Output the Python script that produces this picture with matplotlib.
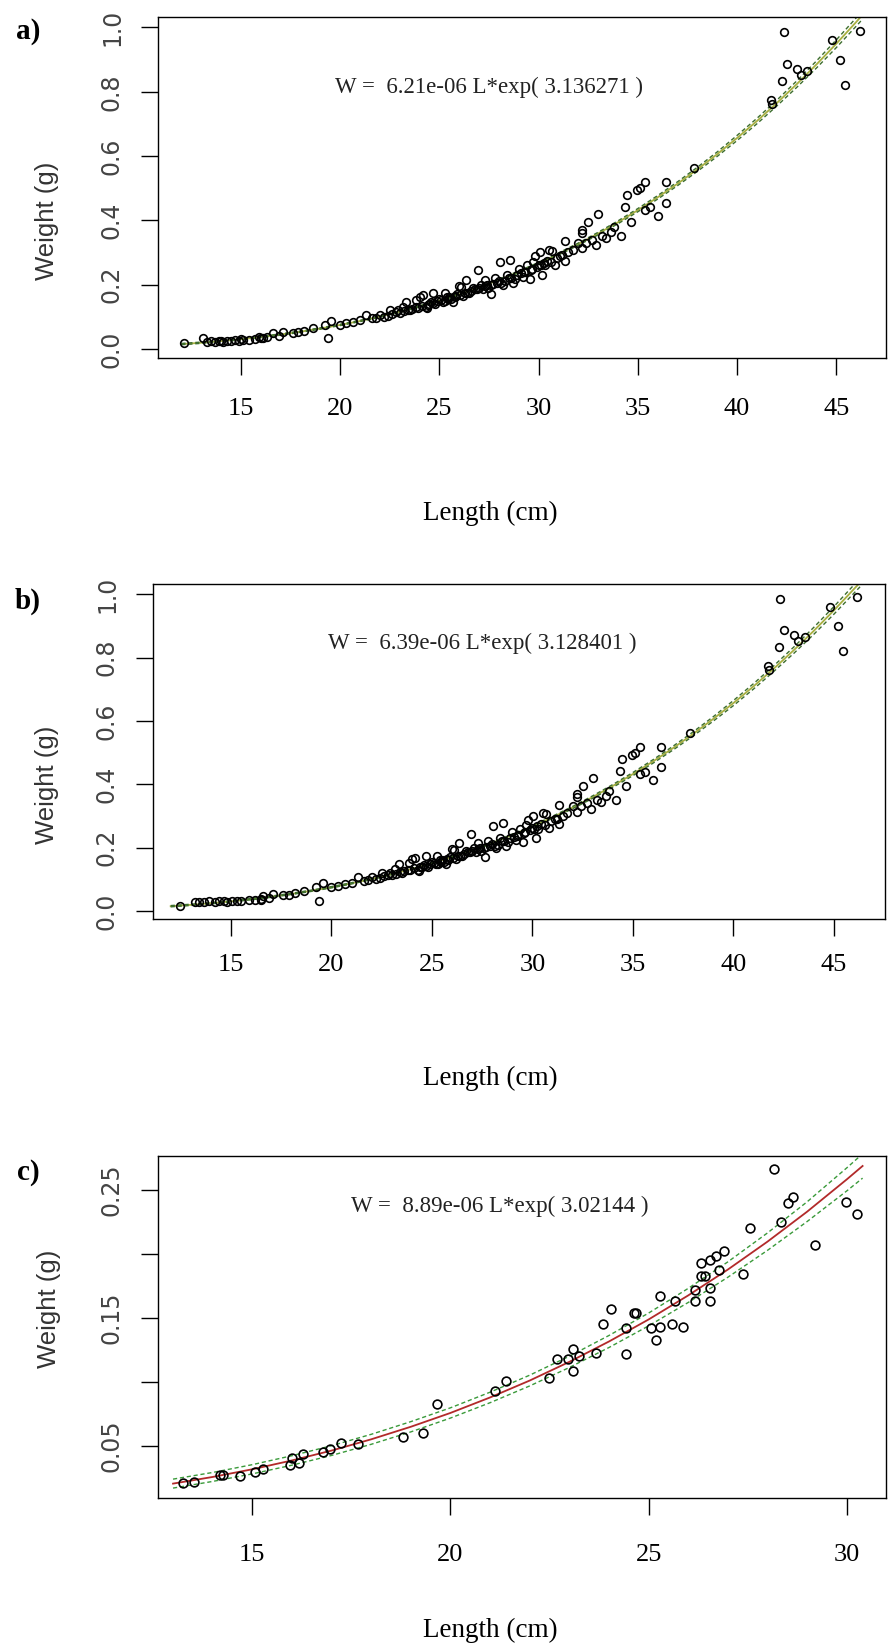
import matplotlib
matplotlib.use("Agg")
import matplotlib.pyplot as plt
import numpy as np

# --- panels a and b: observed length (cm) / weight (g)
len_low_a = [12.15, 13.1, 13.3, 13.5, 13.7, 13.9, 14.0, 14.1, 14.3, 14.5, 14.7, 14.9, 15.0,
             15.1, 15.4, 15.7, 15.9, 16.0, 16.1, 16.3]
wt_low_a = [0.018, 0.033, 0.022, 0.024, 0.022, 0.025, 0.026, 0.023, 0.026, 0.024, 0.027, 0.026, 0.031,
            0.028, 0.027, 0.031, 0.036, 0.035, 0.033, 0.038]
len_low_b = [12.48, 13.22, 13.4, 13.64, 13.9, 14.2, 14.4, 14.63, 14.8, 15.06, 15.3, 15.48, 15.9,
             16.2, 16.47, 16.5]
wt_low_b = [0.017, 0.028, 0.030, 0.029, 0.031, 0.030, 0.032, 0.031, 0.030, 0.032, 0.031, 0.033, 0.034,
            0.036, 0.038, 0.035]

len_common = [16.6, 16.9, 17.1, 17.6, 17.9, 18.2, 18.64, 19.23, 19.4, 19.56, 19.98, 20.3, 20.65,
              21.0, 21.32, 21.6, 22.0, 22.2, 22.5, 22.6, 22.8, 22.9, 23.17, 23.2, 23.34, 23.5, 23.6,
              23.8, 23.84, 24.0, 24.1, 24.18, 24.3, 24.35, 24.5, 24.6, 24.68, 24.8, 24.9, 25.0, 25.18,
              25.27, 25.3, 25.4, 25.5, 25.6, 25.68, 25.77, 25.9, 26.0, 26.1, 26.2, 26.3, 26.36, 26.5,
              26.6, 26.7, 26.8, 26.94, 27.0, 27.1, 27.2, 27.28, 27.4, 27.45, 27.6, 27.62, 27.8, 27.9,
              28.03, 28.12, 28.2, 28.3, 28.4, 28.54, 28.6, 28.7, 28.8, 28.9, 29.0, 29.1, 29.2, 29.3,
              29.4, 29.54, 29.6, 29.7, 29.8, 29.9, 30.05, 30.1, 30.18, 30.3, 30.4, 30.54, 30.6, 30.67,
              30.8, 31.1, 31.34, 31.34, 31.5, 31.73, 32.0, 32.2, 32.2, 32.2, 32.4, 32.5, 32.7, 32.9,
              33.0, 33.2, 33.4, 33.65, 33.8, 34.16, 34.36, 34.46, 34.66, 34.96, 35.1, 35.37, 35.37,
              35.6, 36.0, 36.42, 36.42, 37.82, 41.7, 41.77, 42.28, 42.34, 42.51, 43.03, 43.2, 43.54,
              44.8, 45.2, 45.43, 46.17,
              21.8, 22.4, 23.0, 23.4, 23.9, 24.4, 24.7, 25.1, 25.45, 25.8, 26.05, 26.4, 26.9, 27.3,
              27.7, 28.0, 28.5, 29.25, 29.65, 30.0, 30.25, 30.9, 31.2]
wt_common = [0.049, 0.041, 0.054, 0.050, 0.052, 0.057, 0.064, 0.075, 0.033, 0.088, 0.075, 0.080, 0.085,
             0.090, 0.106, 0.095, 0.106, 0.100, 0.121, 0.110, 0.115, 0.120, 0.132, 0.118, 0.147, 0.120, 0.125,
             0.130, 0.153, 0.163, 0.135, 0.168, 0.130, 0.127, 0.140, 0.145, 0.173, 0.140, 0.150, 0.155, 0.147,
             0.173, 0.150, 0.160, 0.160, 0.155, 0.147, 0.165, 0.170, 0.196, 0.194, 0.165, 0.175, 0.215, 0.175,
             0.180, 0.190, 0.185, 0.244, 0.190, 0.200, 0.185, 0.215, 0.200, 0.190, 0.200, 0.171, 0.220, 0.205,
             0.269, 0.205, 0.199, 0.210, 0.230, 0.277, 0.220, 0.205, 0.218, 0.230, 0.250, 0.235, 0.225, 0.240,
             0.260, 0.217, 0.245, 0.270, 0.288, 0.255, 0.300, 0.260, 0.230, 0.260, 0.275, 0.308, 0.270, 0.306,
             0.262, 0.290, 0.336, 0.275, 0.300, 0.308, 0.330, 0.313, 0.360, 0.370, 0.330, 0.395, 0.340, 0.323,
             0.420, 0.350, 0.345, 0.363, 0.380, 0.352, 0.443, 0.480, 0.395, 0.494, 0.500, 0.518, 0.433,
             0.440, 0.414, 0.518, 0.454, 0.562, 0.775, 0.762, 0.834, 0.985, 0.886, 0.871, 0.852, 0.865,
             0.960, 0.900, 0.822, 0.990,
             0.097, 0.104, 0.113, 0.122, 0.128, 0.138, 0.142, 0.152, 0.156, 0.162, 0.168, 0.174, 0.186, 0.195,
             0.203, 0.212, 0.222, 0.238, 0.250, 0.262, 0.268, 0.283, 0.292]

fit_len_ab = [12, 13, 14, 15, 16, 17, 18, 19, 20, 21, 22, 23, 24, 25, 26, 27, 28, 29, 30, 31, 32,
              33, 34, 35, 36, 37, 38, 39, 40, 41, 42, 43, 44, 45, 46, 46.3]
fit_wt_a = [0.0151, 0.0193, 0.0244, 0.0303, 0.0371, 0.0448, 0.0537, 0.0636, 0.0747, 0.0870, 0.1007,
            0.1158, 0.1323, 0.1503, 0.1700, 0.1914, 0.2145, 0.2394, 0.2663, 0.2951, 0.3260, 0.3590,
            0.3940, 0.4318, 0.4717, 0.5140, 0.5588, 0.6060, 0.6563, 0.7090, 0.7648, 0.8234, 0.8850,
            0.9495, 1.0170, 1.0380]
fit_wt_b = [0.0152, 0.0195, 0.0246, 0.0305, 0.0374, 0.0452, 0.0540, 0.0640, 0.0751, 0.0875, 0.1012,
            0.1163, 0.1328, 0.1509, 0.1706, 0.1920, 0.2152, 0.2401, 0.2670, 0.2958, 0.3267, 0.3598,
            0.3950, 0.4325, 0.4723, 0.5146, 0.5594, 0.6067, 0.6566, 0.7094, 0.7649, 0.8233, 0.8847,
            0.9492, 1.0168, 1.0370]
band_ab = [0.002, 0.002, 0.002, 0.002, 0.002, 0.002, 0.002, 0.002, 0.002, 0.002, 0.002, 0.002, 0.002,
           0.002, 0.002, 0.0025, 0.0025, 0.003, 0.003, 0.0035, 0.0035, 0.004, 0.0045, 0.005, 0.0055,
           0.006, 0.0065, 0.007, 0.008, 0.0085, 0.009, 0.010, 0.011, 0.012, 0.013, 0.0135]

# --- panel c
len_c = [13.26, 13.53, 14.18, 14.27, 14.69, 15.07, 15.26, 15.95, 15.99, 16.18, 16.28, 16.79, 16.96,
         17.25, 17.67, 18.81, 19.30, 19.65, 21.12, 21.39, 22.49, 22.69, 22.96, 23.08, 23.08, 23.24,
         23.67, 23.85, 24.06, 24.44, 24.44, 24.63, 24.69, 25.07, 25.18, 25.28, 25.28, 25.58, 25.66,
         25.86, 26.17, 26.17, 26.33, 26.33, 26.43, 26.54, 26.54, 26.54, 26.70, 26.78, 26.90, 27.38,
         27.57, 28.16, 28.35, 28.53, 28.65, 29.19, 29.97, 30.26]
wt_c = [0.0209, 0.0221, 0.0273, 0.0273, 0.0266, 0.0299, 0.0318, 0.0352, 0.0404, 0.0370, 0.0437, 0.0455,
        0.0480, 0.0520, 0.0516, 0.0573, 0.0604, 0.0828, 0.0932, 0.1010, 0.1030, 0.1177, 0.1177, 0.1260,
        0.1087, 0.1200, 0.1224, 0.1450, 0.1570, 0.1220, 0.1420, 0.1536, 0.1536, 0.1420, 0.1328, 0.1674,
        0.1432, 0.1450, 0.1630, 0.1430, 0.1720, 0.1630, 0.1930, 0.1830, 0.1830, 0.1950, 0.1737, 0.1630,
        0.1980, 0.1875, 0.2026, 0.1844, 0.2206, 0.2661, 0.2252, 0.2400, 0.2447, 0.2070, 0.2404, 0.2312]
fit_len_c = [13, 14, 15, 16, 17, 18, 19, 20, 21, 22, 23, 24, 25, 26, 27, 28, 29, 30, 30.4]
fit_wt_c = [0.0206, 0.0258, 0.0318, 0.0387, 0.0464, 0.0552, 0.0650, 0.0758, 0.0879, 0.1011, 0.1157,
            0.1316, 0.1488, 0.1676, 0.1878, 0.2096, 0.2330, 0.2582, 0.2687]
band_c = [0.0035, 0.0035, 0.0036, 0.0037, 0.0038, 0.0039, 0.004, 0.004, 0.0041, 0.0042, 0.0044, 0.0047,
          0.005, 0.0055, 0.006, 0.0068, 0.0077, 0.009, 0.0095]

equations = ["W =  6.21e-06 L*exp( 3.136271 )", "W =  6.39e-06 L*exp( 3.128401 )",
             "W =  8.89e-06 L*exp( 3.02144 )"]

SERIF = "Liberation Serif"
SANS = "DejaVu Sans"

fig = plt.figure(figsize=(8.89, 16.51), dpi=100)


def panel(rect, xs, ys, fl, fw, band, xlim, ylim, xt, yt, ytl, eq, eq_xy, xpad, center, dash, ms):
    ax = fig.add_axes(rect)
    fl = np.array(fl)
    fw = np.array(fw)
    band = np.array(band)
    ax.plot(fl, fw, color=center, lw=1.3, zorder=2)
    ax.plot(fl, fw + band, color=dash, lw=1.0, ls=(0, (3, 2)), zorder=2)
    ax.plot(fl, fw - band, color=dash, lw=1.0, ls=(0, (3, 2)), zorder=2)
    ax.plot(xs, ys, ls="none", marker="o", ms=ms, mfc="none", mec="black", mew=1.2, zorder=3)
    ax.set_xlim(xlim)
    ax.set_ylim(ylim)
    ax.set_xticks(xt)
    ax.set_xticklabels([str(v) for v in xt], fontfamily=SERIF, fontsize=19)
    ax.set_yticks(yt)
    ax.set_yticklabels(ytl, rotation=90, va="center", fontfamily=SANS, fontsize=17, color="#444444")
    ax.tick_params(axis="both", direction="out", length=12.5, width=1.0)
    ax.tick_params(axis="x", pad=xpad)
    ax.tick_params(axis="y", pad=12)
    for s in ax.spines.values():
        s.set_linewidth(1.0)
    ax.text(eq_xy[0], eq_xy[1], eq, ha="center", va="center", fontfamily=SERIF, fontsize=16.5,
            color="#222222")
    return ax


yt_ab = [0.0, 0.2, 0.4, 0.6, 0.8, 1.0]
ytl_ab = ["0.0", "0.2", "0.4", "0.6", "0.8", "1.0"]
xt_ab = [15, 20, 25, 30, 35, 40, 45]

panel([0.1777, 0.7832, 0.8189, 0.2064], len_low_a + len_common, wt_low_a + wt_common,
      fit_len_ab, fit_wt_a, band_ab, (10.82, 47.5), (-0.028, 1.032), xt_ab, yt_ab, ytl_ab,
      equations[0], (27.5, 0.812), 16, "#a8b040", "#3d6e2e", 5.5)
panel([0.1721, 0.4434, 0.8234, 0.2029], len_low_b + len_common, wt_low_b + wt_common,
      fit_len_ab, fit_wt_b, band_ab, (11.12, 47.54), (-0.025, 1.0325), xt_ab, yt_ab, ytl_ab,
      equations[1], (27.5, 0.846), 13, "#a8b040", "#3d6e2e", 5.5)
panel([0.1777, 0.0927, 0.8189, 0.2072], len_c, wt_c,
      fit_len_c, fit_wt_c, band_c, (12.62, 30.99), (0.0094, 0.2766), [15, 20, 25, 30],
      [0.05, 0.10, 0.15, 0.20, 0.25], ["0.05", "", "0.15", "", "0.25"],
      equations[2], (21.25, 0.2375), 21, "#b22a2a", "#3a9a3a", 6.3)

# panel letters and axis titles
for lab, y in zip(["a)", "b)", "c)"], [0.9812, 0.636, 0.2901]):
    fig.text(0.0315, y, lab, ha="center", va="center", fontfamily=SERIF, fontsize=21, fontweight="bold")
for x, y in zip([0.0529, 0.0529, 0.0551], [0.8661, 0.5245, 0.2071]):
    fig.text(x, y, "Weight (g)", rotation=90, ha="center", va="center", fontfamily="Liberation Sans",
             fontsize=18.5, color="#333333")
for y in [0.6893, 0.3465, 0.0127]:
    fig.text(0.551, y, "Length (cm)", ha="center", va="center", fontfamily=SERIF, fontsize=19.5)

fig.savefig("out.png", dpi=100)
